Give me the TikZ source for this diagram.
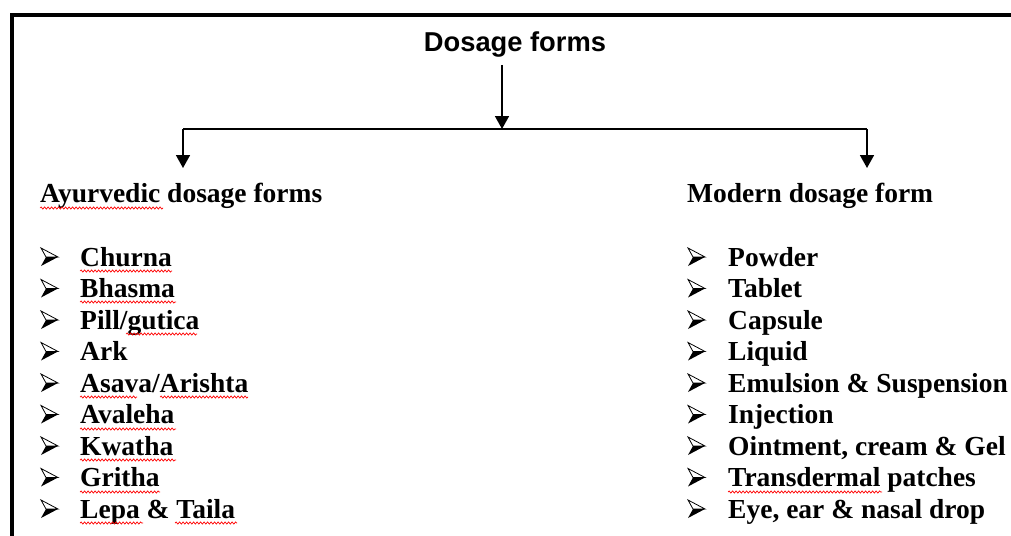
\documentclass[tikz,border=0pt]{standalone}
\usepackage{fontspec}
\setmainfont{Liberation Serif}
\newfontfamily\arialfont{Liberation Sans}
\usetikzlibrary{arrows.meta,decorations.pathmorphing}
\begin{document}
\begin{tikzpicture}[x=1pt,y=-1pt,
  conn/.style={line width=1.7pt,-{Triangle[width=14pt,length=13pt]}},
  plain/.style={line width=1.7pt},
  txt/.style={anchor=base west,inner sep=0pt,font=\fontsize{27.5}{30}\selectfont\bfseries},
  squig/.style={red,line width=0.7pt,decorate,decoration={snake,amplitude=1.1pt,segment length=3.5pt}},
  bullet/.pic={\draw[line width=0.8pt,line join=miter] (0,-9)--(17,0)--(5,0)--cycle;
               \fill (5,0)--(17,0)--(0,9)--cycle;}]
\useasboundingbox (0,0) rectangle (1011,535);
% frame
\draw[line width=3.5pt,line join=miter] (12,540) -- (12,15) -- (1015,15);
% title
\node[anchor=base,inner sep=0pt,font=\arialfont\bfseries\fontsize{27.3}{30}\selectfont] (title) at (515,52) {Dosage forms};
% headings
\node[txt] (ayur) at (40,202) {Ayurvedic dosage forms};
\node[txt] (mod) at (687,202) {Modern dosage form};
% connectors
\coordinate (j) at (502,129);
\coordinate (jl) at (183,129);
\coordinate (jr) at (867,129);
\coordinate (al) at (183,168);
\coordinate (ar) at (867,168);
\draw[conn,shorten <=7pt] (title.south -| j) -- (j);
\draw[plain] (jl) -- (jr);
\draw[conn] (jl) -- (al);
\draw[conn] (jr) -- (ar);
% left list
\foreach \t [count=\i] in {Churna,Bhasma,Pill/gutica,Ark,Asava/Arishta,Avaleha,Kwatha,Gritha,Lepa \& Taila}{
  \pgfmathsetmacro{\yy}{266+31.5*(\i-1)}
  \pic at (41,\yy-9) {bullet};
  \node[txt] (l\i) at (80,\yy) {\t};
}
% right list
\foreach \t [count=\i] in {Powder,Tablet,Capsule,Liquid,Emulsion \& Suspension,Injection,{Ointment, cream \& Gel},Transdermal patches,{Eye, ear \& nasal drop}}{
  \pgfmathsetmacro{\yy}{266+31.5*(\i-1)}
  \pic at (688,\yy-9) {bullet};
  \node[txt] (r\i) at (728,\yy) {\t};
}
% spell-check squiggles
\draw[squig] (40,208) -- (163,208);
\draw[squig] (80,271) -- (172,271);
\draw[squig] (80,302) -- (176,302);
\draw[squig] (126,334) -- (197,334);
\draw[squig] (80,397) -- (137,397);
\draw[squig] (160,397) -- (248,397);
\draw[squig] (80,429) -- (176,429);
\draw[squig] (80,460) -- (176,460);
\draw[squig] (80,492) -- (160,492);
\draw[squig] (80,523) -- (143,523);
\draw[squig] (175,523) -- (237,523);
\draw[squig] (728,492) -- (882,492);
\end{tikzpicture}
\end{document}
